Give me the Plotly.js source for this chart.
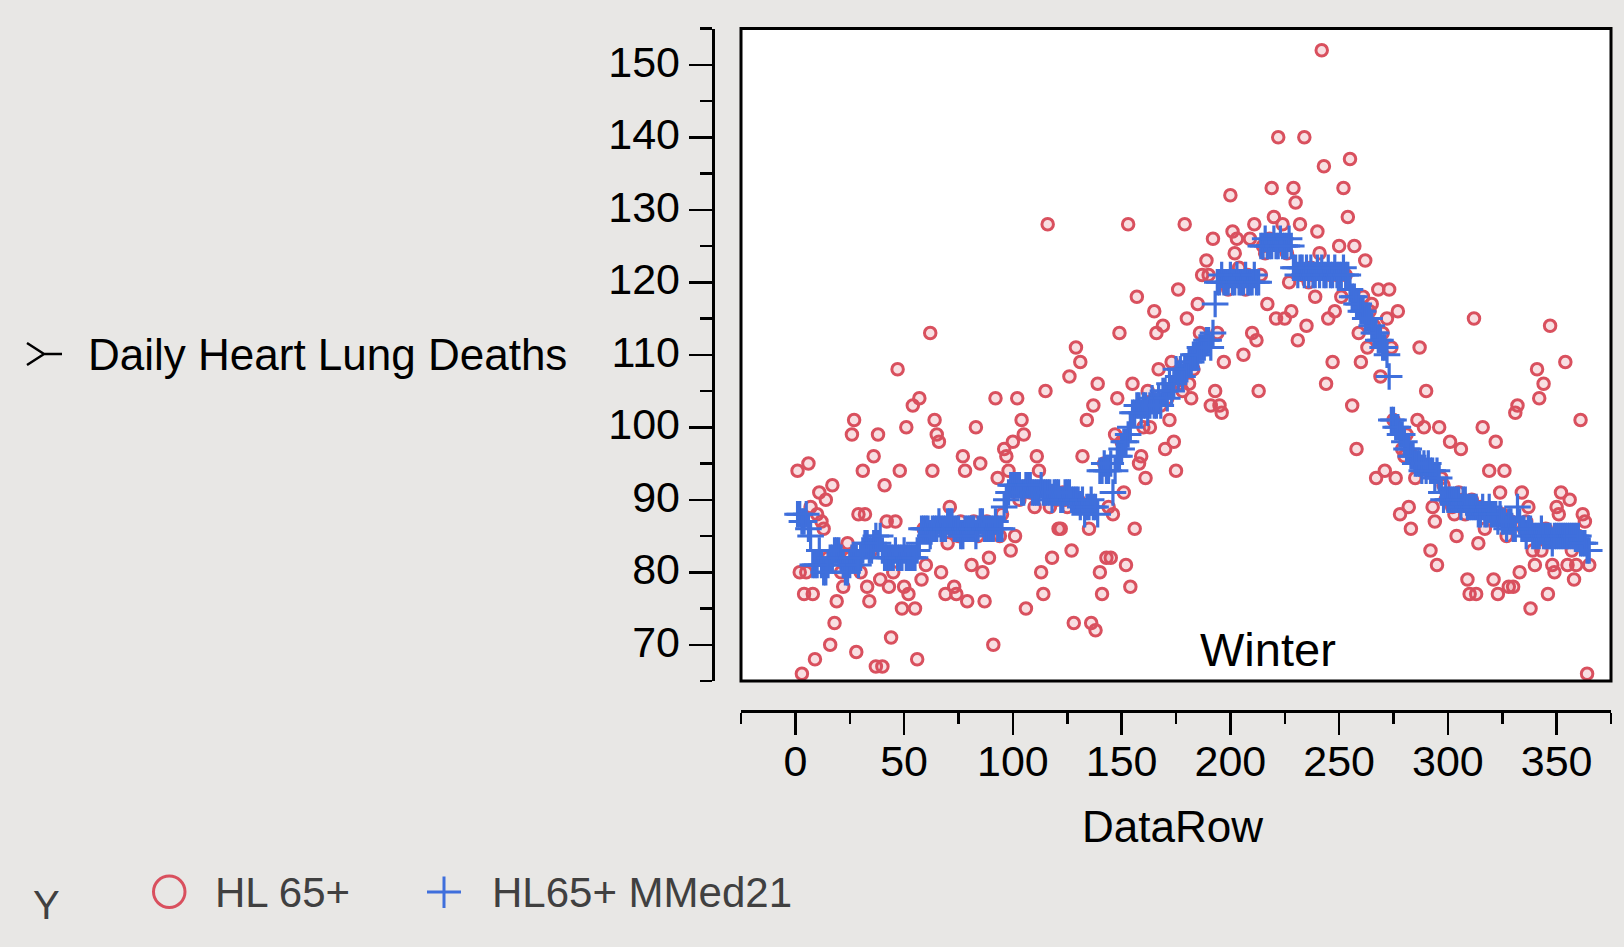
<!DOCTYPE html>
<html>
<head>
<meta charset="utf-8">
<script src="https://cdn.plot.ly/plotly-3.0.1.min.js"></script>
<style>
html,body{margin:0;padding:0;background:#E8E7E5;}
#chart{width:1624px;height:947px;}
</style>
</head>
<body>
<div id="chart"></div>
<script>
// HL 65+ : daily heart & lung deaths, age 65+ (one value per DataRow 1..365)
const hl65 = [
  94,80,66,77,80,95,89,77,68,88,
  91,87,86,90,82,70,92,73,76,83,
  80,78,81,84,82,99,101,69,88,80,
  94,88,78,76,83,96,67,99,79,67,
  92,87,78,71,80,87,108,94,75,78,
  100,77,82,103,75,68,104,79,86,81,
  86,113,94,101,99,98,80,86,77,84,
  89,86,78,77,85,87,96,94,76,86,
  81,87,100,85,95,80,76,87,82,86,
  70,104,93,85,88,97,96,94,83,98,
  85,104,90,101,99,75,92,91,91,89,
  96,94,80,77,105,128,89,82,91,90,
  86,86,91,90,89,107,83,73,111,90,
  109,96,89,101,86,73,103,72,106,80,
  77,95,82,89,82,88,99,104,113,98,
  91,81,128,78,106,86,118,95,96,100,
  93,105,100,103,116,113,108,103,114,97,
  104,101,109,98,94,119,106,105,128,115,
  106,104,108,110,117,113,121,111,123,121,
  103,126,105,113,103,102,109,120,119,132,
  127,124,126,122,120,110,119,121,126,113,
  128,112,105,121,125,124,117,126,133,129,
  115,140,125,128,115,124,120,116,133,131,
  112,128,121,140,114,120,122,121,118,127,
  124,152,136,106,115,121,109,116,121,125,
  118,133,121,129,137,103,125,97,113,109,
  118,123,111,116,117,114,93,119,107,113,
  94,115,119,111,101,93,116,88,97,96,
  99,89,86,96,93,101,111,95,100,105,
  94,83,89,87,81,100,93,92,90,90,
  98,89,88,85,91,97,90,88,79,77,
  90,115,77,84,89,100,86,88,94,88,
  79,98,77,91,88,94,85,78,87,78,
  102,103,80,91,86,87,89,75,83,81,
  108,104,83,106,86,77,114,81,80,89,
  88,91,85,109,81,90,83,79,81,85,
  101,88,87,66,81
];

// HL65+ MMed21 : 21-day moving median of HL 65+
const hl65MMed21 = [
  88,88,87,87,88,86,85,81,81,81,
  83,81,80,80,81,82,82,83,83,83,
  82,81,80,80,81,82,82,82,81,82,
  83,84,84,83,83,84,85,84,85,83,
  82,82,82,82,82,83,82,82,82,83,
  82,82,82,82,82,83,84,86,86,86,
  86,85,86,86,86,87,86,86,86,87,
  87,87,86,86,86,85,85,86,86,86,
  86,86,85,86,87,87,86,86,86,86,
  86,87,86,86,86,89,90,91,92,92,
  92,92,92,91,91,92,92,92,91,91,
  91,91,92,91,91,91,91,90,91,91,
  91,90,90,91,91,91,90,90,90,90,
  89,90,88,89,89,90,89,89,88,94,
  94,95,94,94,95,91,94,96,96,97,
  98,98,99,100,102,102,103,103,102,103,
  103,102,103,104,103,103,104,103,105,105,
  104,106,105,106,108,107,108,107,108,108,
  109,109,110,110,110,111,111,111,112,112,
  111,113,117,120,120,121,120,120,120,121,
  120,120,121,120,120,120,121,120,120,120,
  121,120,120,125,125,126,125,125,125,126,
  125,125,126,125,125,125,126,125,122,122,
  121,122,122,121,122,121,122,121,121,122,
  121,122,121,121,122,121,121,122,121,121,
  121,122,121,121,119,118,118,117,117,116,
  116,115,115,115,114,113,113,112,112,111,
  111,110,107,101,101,100,100,99,99,98,
  97,97,96,96,95,95,95,94,95,94,
  95,94,94,93,94,93,91,90,91,90,
  90,90,90,90,90,89,90,90,89,89,
  89,89,89,88,88,89,88,88,89,88,
  88,88,87,88,87,87,86,87,87,86,
  86,89,87,86,86,85,86,86,85,85,
  85,85,86,85,85,85,85,84,85,85,
  85,85,85,85,85,85,85,85,85,85,
  84,84,84,83,83
];

const dataRow = hl65.map((v, i) => i + 1);
const xTickVals = [0, 50, 100, 150, 200, 250, 300, 350];
const yTickVals = [70, 80, 90, 100, 110, 120, 130, 140, 150];

const W = 1624, H = 947;
const px = x => x / W;
const py = y => 1 - y / H;
const FONT = 'Liberation Sans, Arial, Helvetica, sans-serif';
const RED = '#D9505E';
const BLUE = '#3F6FDC';

const traces = [
  {
    type: 'scatter', mode: 'markers', name: 'HL 65+',
    x: dataRow, y: hl65,
    marker: {symbol: 'circle', size: 11.5, color: 'rgba(217,80,94,0.18)', line: {width: 3, color: RED}},
    showlegend: false
  },
  {
    type: 'scatter', mode: 'markers', name: 'HL65+ MMed21',
    x: dataRow, y: hl65MMed21,
    marker: {symbol: 'cross-thin-open', size: 19, color: BLUE, line: {width: 3.2, color: BLUE}},
    showlegend: false
  }
];

const layout = {
  width: W, height: H,
  margin: {l: 0, r: 0, t: 0, b: 0},
  paper_bgcolor: '#E8E7E5',
  plot_bgcolor: '#FFFFFF',
  font: {family: FONT, color: '#000'},
  showlegend: false,
  xaxis: {
    domain: [px(741), px(1611)],
    range: [-25, 375],
    anchor: 'free', position: py(711),
    showline: true, linecolor: '#000', linewidth: 3,
    ticks: 'outside', ticklen: 22, tickwidth: 2.5, tickcolor: '#000',
    tickvals: xTickVals, ticktext: xTickVals.map(String),
    ticklabelstandoff: -11,
    minor: {dtick: 25, tick0: 0, ticks: 'outside', ticklen: 11, tickwidth: 2.5, tickcolor: '#000'},
    showgrid: false, zeroline: false,
    tickfont: {family: FONT, size: 43, color: '#000'}
  },
  yaxis: {
    domain: [py(681), py(28.5)],
    range: [65, 155],
    anchor: 'free', position: px(712.6),
    showline: true, linecolor: '#000', linewidth: 3,
    ticks: 'outside', ticklen: 23, tickwidth: 2.5, tickcolor: '#000',
    tickvals: yTickVals, ticktext: yTickVals.map(String),
    ticklabelshift: -3,
    minor: {dtick: 5, tick0: 0, ticks: 'outside', ticklen: 12, tickwidth: 2.5, tickcolor: '#000'},
    showgrid: false, zeroline: false,
    tickfont: {family: FONT, size: 43, color: '#000'}
  },
  shapes: [
    // plot frame
    {type: 'rect', xref: 'x domain', yref: 'y domain', x0: 0, x1: 1, y0: 0, y1: 1,
     line: {color: '#000', width: 3}, fillcolor: 'rgba(0,0,0,0)'},
    // drag icon before y title
    {type: 'path', xref: 'paper', yref: 'paper',
     path: `M ${px(27)},${py(343)} L ${px(44)},${py(354)} L ${px(27)},${py(365)} M ${px(44)},${py(354)} L ${px(62)},${py(354)}`,
     line: {color: '#000', width: 2.5}},
    // legend symbols
    {type: 'circle', xref: 'paper', yref: 'paper',
     x0: px(153.5), x1: px(185), y0: py(907.5), y1: py(876),
     line: {color: RED, width: 3}, fillcolor: 'rgba(0,0,0,0)'},
    {type: 'line', xref: 'paper', yref: 'paper', x0: px(427), x1: px(461), y0: py(892), y1: py(892),
     line: {color: BLUE, width: 3}},
    {type: 'line', xref: 'paper', yref: 'paper', x0: px(444), x1: px(444), y0: py(876.5), y1: py(908),
     line: {color: BLUE, width: 3}}
  ],
  annotations: [
    {text: 'Daily Heart Lung Deaths', xref: 'paper', yref: 'paper', x: px(86), y: py(355),
     xanchor: 'left', yanchor: 'middle', showarrow: false, font: {family: FONT, size: 44, color: '#000'}},
    {text: 'DataRow', xref: 'paper', yref: 'paper', x: px(1172), y: py(826),
     xanchor: 'center', yanchor: 'middle', showarrow: false, font: {family: FONT, size: 44, color: '#000'}},
    {text: 'Winter', xref: 'x domain', yref: 'y domain', x: (1268 - 741) / 870, y: (681 - 649) / 652.5,
     xanchor: 'center', yanchor: 'middle', showarrow: false, font: {family: FONT, size: 47, color: '#000'}},
    {text: 'Y', xref: 'paper', yref: 'paper', x: px(46), y: py(905),
     xanchor: 'center', yanchor: 'middle', showarrow: false, font: {family: FONT, size: 40, color: '#404040'}},
    {text: 'HL 65+', xref: 'paper', yref: 'paper', x: px(213), y: py(892),
     xanchor: 'left', yanchor: 'middle', showarrow: false, font: {family: FONT, size: 42, color: '#404040'}},
    {text: 'HL65+ MMed21', xref: 'paper', yref: 'paper', x: px(490), y: py(892),
     xanchor: 'left', yanchor: 'middle', showarrow: false, font: {family: FONT, size: 42, color: '#404040'}}
  ]
};

Plotly.newPlot('chart', traces, layout, {displayModeBar: false, staticPlot: true});
</script>
</body>
</html>
